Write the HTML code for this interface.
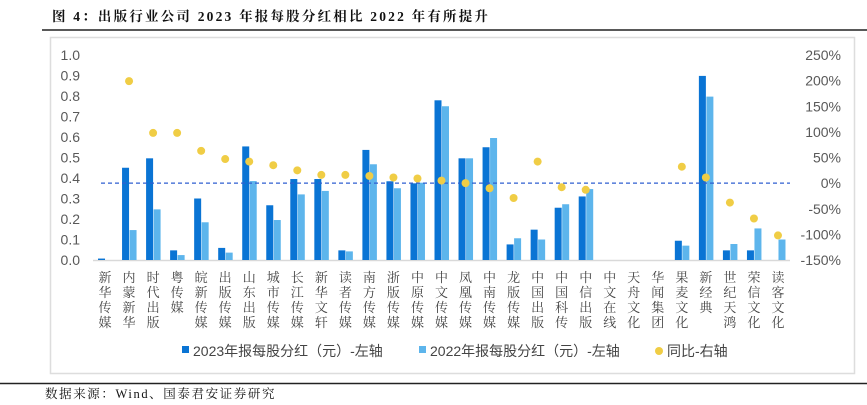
<!DOCTYPE html>
<html><head><meta charset="utf-8">
<style>
html,body{margin:0;padding:0;background:#fff;}
body{width:867px;height:400px;position:relative;overflow:hidden;font-family:"Liberation Sans","Noto Sans CJK SC",sans-serif;}
</style></head>
<body>
<svg id="chart" width="867" height="400" xmlns="http://www.w3.org/2000/svg">
  <text x="52" y="21" font-family="'Liberation Serif','Noto Serif CJK SC',serif" font-weight="bold" font-size="13.5" fill="#111" letter-spacing="2.2">图 4：出版行业公司 2023 年报每股分红相比 2022 年有所提升</text>
  <line x1="42" y1="30" x2="867" y2="30" stroke="#222" stroke-width="1.5"/>
  <rect x="50.5" y="37.5" width="804" height="336" fill="none" stroke="#ddd" stroke-width="1.5"/>
  <line x1="0" y1="383.5" x2="867" y2="383.5" stroke="#222" stroke-width="1.5"/>
  <text x="45" y="398" font-family="'Liberation Serif','Noto Serif CJK SC',serif" font-size="12.5" fill="#111" letter-spacing="1.6">数据来源：Wind、国泰君安证券研究</text>
  <g id="plot"></g>
</svg>
<script>
const categories=["新华传媒","内蒙新华","时代出版","粤传媒","皖新传媒","出版传媒","山东出版","城市传媒","长江传媒","新华文轩","读者传媒","南方传媒","浙版传媒","中原传媒","中文传媒","凤凰传媒","中南传媒","龙版传媒","中国出版","中国科传","中信出版","中文在线","天舟文化","华闻集团","果麦文化","新经典","世纪天鸿","荣信文化","读客文化"];
const div2023=[0.007,0.45,0.496,0.047,0.30,0.059,0.554,0.267,0.395,0.395,0.047,0.537,0.384,0.374,0.779,0.496,0.55,0.076,0.148,0.255,0.31,0,0,0,0.094,0.898,0.047,0.047,0];
const div2022=[0,0.146,0.247,0.024,0.184,0.036,0.385,0.195,0.32,0.337,0.042,0.467,0.35,0.377,0.75,0.496,0.595,0.106,0.10,0.272,0.346,0,0,0,0.07,0.797,0.078,0.154,0.10];
const yoy=[null,199,98,98,63,47,42,35,25,16,16,14,11,9,5,0,-10,-29,42,-8,-13,null,null,null,32,11,-38,-69,-102];
const leftTicks=[0,0.1,0.2,0.3,0.4,0.5,0.6,0.7,0.8,0.9,1.0];
const rightTicks=[-150,-100,-50,0,50,100,150,200,250];

const NS="http://www.w3.org/2000/svg";
const g=document.getElementById('plot');
const X0=93,X1=790,Y0=260,Y1=55;
const band=(X1-X0)/categories.length;
const xC=i=>X0+(i+0.5)*band;
const yL=v=>Y0-(v/1.0)*(Y0-Y1);
const yR=v=>Y0-((v+150)/400)*(Y0-Y1);
function mk(tag,attrs){const e=document.createElementNS(NS,tag);for(const k in attrs)e.setAttribute(k,attrs[k]);g.appendChild(e);return e;}

leftTicks.forEach(t=>{
  const e=mk('text',{x:80,y:yL(t)+5,'text-anchor':'end','font-size':14,fill:'#595959'});
  
  
  e.textContent=t.toFixed(1);
});
rightTicks.forEach(t=>{
  const e=mk('text',{x:841,y:yR(t)+5,'text-anchor':'end','font-size':14,fill:'#595959'});
  
  
  e.textContent=t+'%';
});
const ax=mk('line',{x1:X0,y1:Y0+0.5,x2:X1,y2:Y0+0.5,stroke:'#d9d9d9','stroke-width':1.5});



const bw=7;
categories.forEach((c,i)=>{
  const cx=xC(i);
  if(div2023[i]>0){
    const r=mk('rect',{x:cx-bw,y:yL(div2023[i]),width:bw,height:Y0-yL(div2023[i]),fill:'#0a74d4'});
    
    
  }
  if(div2022[i]>0){
    const r=mk('rect',{x:cx+0.5,y:yL(div2022[i]),width:bw,height:Y0-yL(div2022[i]),fill:'#5db5ec'});
    
    
  }
  const t=mk('text',{'font-size':13,fill:'#444','font-family':"'Liberation Serif','Noto Serif CJK SC',serif",'text-anchor':'middle'});
  
  
  [...c].forEach((ch,k)=>{const s=document.createElementNS(NS,'tspan');s.setAttribute('x',cx);s.setAttribute('y',282+k*15);s.textContent=ch;t.appendChild(s);});
});
const zl=mk('line',{x1:X0+8,y1:yR(0),x2:X1,y2:yR(0),stroke:'#2f5fd0','stroke-width':1.2,'stroke-dasharray':'4,3'});


categories.forEach((c,i)=>{
  if(yoy[i]===null)return;
  const d=mk('circle',{cx:xC(i),cy:yR(yoy[i]),r:4,fill:'#f0cd45'});
  
  
});
// legend
const l1=mk('rect',{x:182,y:346,width:7,height:7,fill:'#0a74d4'});


const t1=mk('text',{x:193,y:356,'font-size':14,fill:'#444'});


t1.textContent='2023年报每股分红（元）-左轴';
const l2=mk('rect',{x:419,y:346,width:7,height:7,fill:'#5db5ec'});


const t2=mk('text',{x:430,y:356,'font-size':14,fill:'#444'});


t2.textContent='2022年报每股分红（元）-左轴';
const l3=mk('circle',{cx:659,cy:351,r:4,fill:'#f0cd45'});


const t3=mk('text',{x:667,y:356,'font-size':14,fill:'#444'});


t3.textContent='同比-右轴';
</script>
</body></html>
